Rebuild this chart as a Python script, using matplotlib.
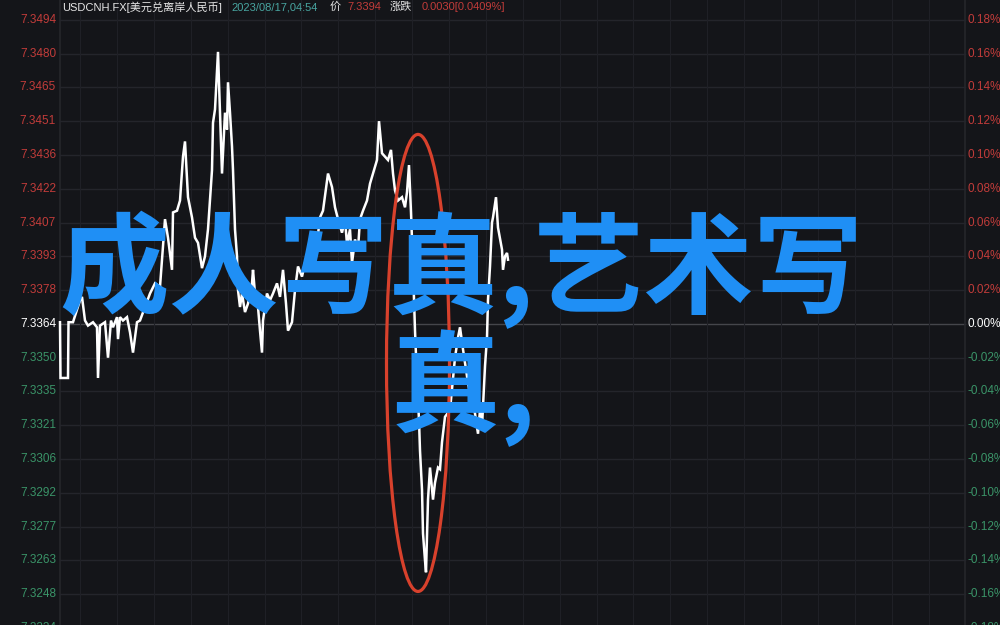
import matplotlib
matplotlib.use("Agg")
import matplotlib.pyplot as plt
from matplotlib.patches import Ellipse

# ---- data ----
# time positions (minutes along the session axis)
t = [60, 60.5, 68, 68.5, 73, 80, 82, 85, 88, 93, 97, 98, 100, 105, 108, 111, 113, 117, 118, 120,
     123, 127, 130, 133, 137, 140, 145, 150, 155, 160, 165, 168, 172, 173, 177, 180, 183, 185, 188, 192,
     195, 198, 202, 205, 208, 212, 213, 215, 218, 220, 222, 223, 225, 227, 228, 230, 232, 233, 235, 237,
     238, 240, 242, 245, 248, 252, 253, 255, 258, 260, 262, 263, 267, 270, 273, 277, 280, 283, 286, 288,
     292, 295, 298, 302, 305, 310, 315, 318, 320, 323, 328, 332, 335, 338, 342, 345, 347, 350, 352, 355,
     358, 360, 363, 367, 370, 373, 377, 379, 382, 385, 388, 391, 393, 395, 398, 402, 405, 407, 409, 411,
     413, 415, 417, 419, 420, 422, 423, 425, 426, 428, 430, 433, 435, 438, 440, 442, 445, 450, 455, 458,
     460, 463, 465, 468, 472, 475, 478, 480, 482, 485, 487, 488, 490, 492, 493, 496, 498, 502, 503, 505,
     507, 508]
# change vs. previous close, in percent
change_pct = [0.001, -0.032, -0.032, 0.001, 0.001, 0.014, 0.016, 0.002, -0.001, 0.001, -0.002, -0.032, -0.001, 0.001, -0.020, 0.002, -0.002, 0.004, -0.009, 0.004,
              0.002, 0.004, -0.005, -0.017, 0.001, 0.002, 0.010, 0.018, 0.024, 0.022, 0.062, 0.051, 0.032, 0.066, 0.067, 0.073, 0.099, 0.108, 0.075, 0.063,
              0.051, 0.048, 0.033, 0.040, 0.056, 0.091, 0.119, 0.127, 0.161, 0.125, 0.089, 0.101, 0.125, 0.115, 0.143, 0.125, 0.105, 0.091, 0.056, 0.040,
              0.020, 0.010, 0.018, 0.007, 0.012, 0.024, 0.032, 0.018, 0.010, -0.004, -0.017, 0.002, 0.018, 0.014, 0.018, 0.024, 0.016, 0.032, 0.012, -0.004,
              0.001, 0.020, 0.034, 0.028, 0.036, 0.041, 0.044, 0.053, 0.063, 0.067, 0.089, 0.081, 0.069, 0.062, 0.054, 0.062, 0.047, 0.056, 0.036, 0.050,
              0.044, 0.062, 0.067, 0.073, 0.083, 0.089, 0.097, 0.120, 0.101, 0.099, 0.097, 0.103, 0.089, 0.079, 0.073, 0.075, 0.069, 0.078, 0.094, 0.066,
              0.034, -0.004, -0.033, -0.057, -0.075, -0.098, -0.124, -0.140, -0.147, -0.104, -0.085, -0.104, -0.094, -0.085, -0.086, -0.070, -0.055, -0.051, -0.020, -0.008,
              -0.002, -0.015, -0.023, -0.035, -0.047, -0.053, -0.065, -0.051, -0.061, -0.025, -0.008, 0.014, 0.034, 0.060, 0.063, 0.075, 0.057, 0.044, 0.032, 0.040,
              0.042, 0.038]

pct_ticks = [0.18, 0.16, 0.14, 0.12, 0.10, 0.08, 0.06, 0.04, 0.02, 0.00,
             -0.02, -0.04, -0.06, -0.08, -0.10, -0.12, -0.14, -0.16, -0.18]
price_labels = ["7.3494", "7.3480", "7.3465", "7.3451", "7.3436", "7.3422", "7.3407", "7.3393", "7.3378", "7.3364",
                "7.3350", "7.3335", "7.3321", "7.3306", "7.3292", "7.3277", "7.3263", "7.3248", "7.3234"]
pct_labels = ["0.18%", "0.16%", "0.14%", "0.12%", "0.10%", "0.08%", "0.06%", "0.04%", "0.02%", "0.00%",
              "-0.02%", "-0.04%", "-0.06%", "-0.08%", "-0.10%", "-0.12%", "-0.14%", "-0.16%", "-0.18%"]

header_symbol = "USDCNH.FX[美元兑离岸人民币]"
header_time = "2023/08/17,04:54"
header_price_label = "价"
header_price = "7.3394"
header_change_label = "涨跌"
header_change = "0.0030[0.0409%]"
overlay_line1 = "成人写真,艺术写"
overlay_line2 = "真,"

# highlighted zone (ellipse) : centre time / change, extents
hl_center = (418, -0.0231)
hl_width = 63
hl_height = 0.2705

# ---- style ----
BG = "#141519"
GRID = "#1f2026"
RED = "#c23c3a"
GREEN = "#3a9468"
TEAL = "#48a5a0"
BLUE = "#1f8ff5"
FONTS = ["Liberation Sans", "Noto Sans CJK SC", "DejaVu Sans"]

fig = plt.figure(figsize=(10, 6.25), dpi=100, facecolor=BG)
ax = fig.add_axes([0, 0, 1, 1])
ax.set_facecolor(BG)
ax.set_xlim(0, 1000)
ax.set_ylim(-0.1782, 0.1917)
ax.axis("off")

# grid
for v in pct_ticks:
    col = "#45464b" if v == 0 else "#24252b"
    ax.axhline(v, xmin=0.06, xmax=0.965, color=col, lw=1.0, zorder=1)
xg = 80.0
while xg < 965:
    ax.axvline(xg, color=GRID, lw=0.8, zorder=1)
    xg += 36.9
ax.axvline(60, color="#25262b", lw=1.2, zorder=1)
ax.axvline(965, color="#25262b", lw=1.2, zorder=1)

# price line
ax.plot(t, change_pct, color="white", lw=1.8, zorder=3, solid_joinstyle="miter")

# tick labels
for v, pl, ql in zip(pct_ticks, price_labels, pct_labels):
    c = RED if v > 0 else (GREEN if v < 0 else "white")
    ax.text(56, v, pl, ha="right", va="center", color=c, fontsize=8.5, family=FONTS, zorder=4)
    ax.text(968, v, ql, ha="left", va="center", color=c, fontsize=8.5, family=FONTS, zorder=4)

# highlight ellipse
ax.add_patch(Ellipse(hl_center, hl_width, hl_height, fill=False, edgecolor="#d8412c", lw=2.3, zorder=5))

# header
yh = 1 - 7 / 625
hs = 8.0
fig.text(62 / 1000, yh, header_symbol, color="#e6e6e6", fontsize=hs, family=FONTS, va="center")
fig.text(231 / 1000, yh, header_time, color=TEAL, fontsize=hs, family=FONTS, va="center")
fig.text(330 / 1000, yh, header_price_label, color="#e6e6e6", fontsize=hs, family=FONTS, va="center")
fig.text(347 / 1000, yh, header_price, color=RED, fontsize=hs, family=FONTS, va="center")
fig.text(390 / 1000, yh, header_change_label, color="#e6e6e6", fontsize=hs, family=FONTS, va="center")
fig.text(422 / 1000, yh, header_change, color=RED, fontsize=hs, family=FONTS, va="center")

# overlay title
fig.text(461 / 1000, 1 - 270 / 625, overlay_line1, color=BLUE, fontsize=79, weight="bold",
         family=["Noto Sans CJK SC", "DejaVu Sans"], ha="center", va="center", zorder=10)
fig.text(463 / 1000, 1 - 388 / 625, overlay_line2, color=BLUE, fontsize=79, weight="bold",
         family=["Noto Sans CJK SC", "DejaVu Sans"], ha="center", va="center", zorder=10)

fig.savefig("out.png", dpi=100, facecolor=BG)
